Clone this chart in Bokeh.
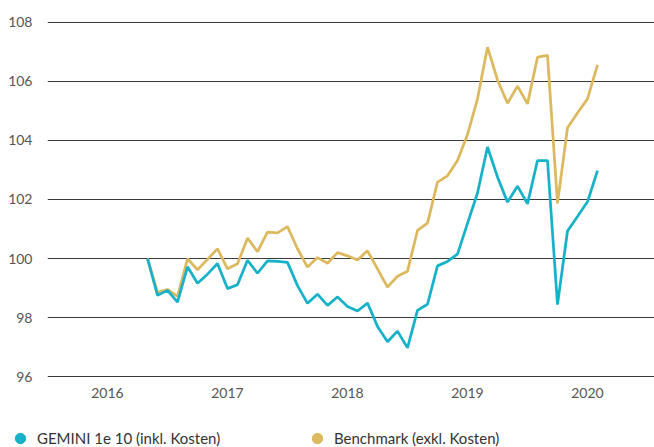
from bokeh.plotting import figure
from bokeh.models import FixedTicker, Legend, LegendItem, Range1d
from bokeh.embed import file_html
from bokeh.resources import INLINE

# ---- data ----
years = [2016, 2017, 2018, 2019, 2020]
start_month = 10  # first observation, months after Jan 2016
fund_label = "GEMINI 1e 10 (inkl. Kosten)"
bench_label = "Benchmark (exkl. Kosten)"
y_ticks = [96, 98, 100, 102, 104, 106, 108]

fund = [100.0, 98.75, 98.92, 98.52, 99.72, 99.16, 99.47, 99.83, 98.98, 99.11,
        99.94, 99.5, 99.92, 99.9, 99.87, 99.08, 98.48, 98.79, 98.41, 98.7,
        98.37, 98.22, 98.49, 97.7, 97.18, 97.54, 96.97, 98.24, 98.45, 99.75,
        99.9, 100.15, 101.19, 102.22, 103.78, 102.76, 101.91, 102.45, 101.85, 103.32,
        103.32, 98.44, 100.93, 101.42, 101.92, 102.98]
bench = [100.0, 98.85, 98.95, 98.72, 99.99, 99.62, 99.97, 100.33, 99.65, 99.82,
         100.69, 100.23, 100.89, 100.87, 101.08, 100.33, 99.71, 100.03, 99.84, 100.2,
         100.09, 99.95, 100.26, 99.65, 99.03, 99.4, 99.57, 100.95, 101.2, 102.59,
         102.8, 103.32, 104.2, 105.41, 107.16, 106.05, 105.26, 105.84, 105.24, 106.82,
         106.88, 101.87, 104.43, 104.93, 105.41, 106.56]

months = [start_month + i for i in range(len(fund))]
year_ticks = [(y - years[0]) * 12 + 6 for y in years]

TEAL = "#17b2c9"
GOLD = "#dcb95e"
FONT = "Lato"

p = figure(width=654, height=420, output_backend="svg", toolbar_location=None,
           x_range=Range1d(0, 60.7), y_range=Range1d(95.9, 108.2),
           min_border_left=47, min_border_right=0, min_border_top=16,
           min_border_bottom=41)
p.outline_line_color = None
p.background_fill_color = "white"
p.border_fill_color = "white"

# axes
p.yaxis.ticker = FixedTicker(ticks=y_ticks)
p.xaxis.ticker = FixedTicker(ticks=year_ticks)
p.xaxis.major_label_overrides = {t: str(y) for t, y in zip(year_ticks, years)}
for ax in (p.xaxis, p.yaxis):
    ax.axis_line_color = None
    ax.major_tick_line_color = None
    ax.minor_tick_line_color = None
    ax.major_label_text_font = FONT
    ax.major_label_text_font_size = "14px"
    ax.major_label_text_color = "#555555"
p.yaxis.major_label_standoff = 9
p.xaxis.major_label_standoff = 2

p.xgrid.grid_line_color = None
p.ygrid.ticker = FixedTicker(ticks=y_ticks)
p.ygrid.grid_line_color = "#3a3a3a"
p.ygrid.grid_line_width = 1

p.line(months, bench, color=GOLD, line_width=2.75)
p.line(months, fund, color=TEAL, line_width=2.75)

# ---- legend strip (separate root; its markers sit outside its view) ----
lg = figure(width=654, height=27, output_backend="svg", toolbar_location=None,
            x_axis_type=None, y_axis_type=None,
            x_range=Range1d(0, 1), y_range=Range1d(0, 1),
            min_border_left=0, min_border_right=0, min_border_top=0,
            min_border_bottom=0)
lg.outline_line_color = None
lg.xgrid.grid_line_color = None
lg.ygrid.grid_line_color = None
r1 = lg.scatter(x=months[:1], y=fund[:1], marker="circle", color=TEAL)
r2 = lg.scatter(x=months[:1], y=bench[:1], marker="circle", color=GOLD)

legend = Legend(items=[LegendItem(label=fund_label, renderers=[r1]),
                       LegendItem(label=bench_label, renderers=[r2])],
                location=(7, -4), orientation="horizontal",
                glyph_width=26, glyph_height=26, label_standoff=4,
                label_width=262, spacing=5, padding=0, margin=0,
                border_line_color=None, background_fill_alpha=0,
                label_text_font=FONT, label_text_font_size="15px",
                label_text_color="#333333")
lg.add_layout(legend, "center")

open("out.html", "w").write(file_html([p, lg], INLINE))
